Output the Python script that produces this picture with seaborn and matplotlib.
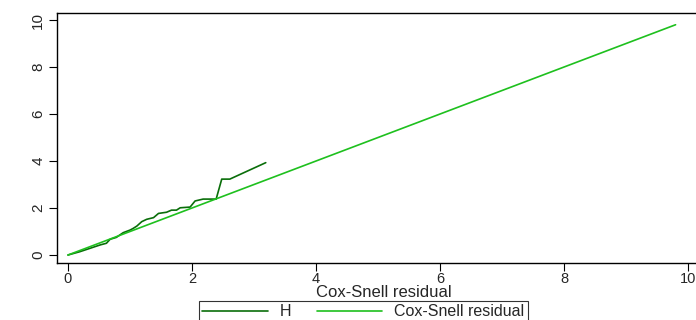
import matplotlib
matplotlib.use("Agg")
import matplotlib.pyplot as plt
import seaborn as sns
import pandas as pd

# Nelson-Aalen cumulative hazard (H) vs Cox-Snell residual
cs_resid = [0.0, 0.19, 0.35, 0.52, 0.62, 0.68, 0.78, 0.89, 1.0, 1.05, 1.11, 1.19, 1.27,
            1.38, 1.46, 1.59, 1.67, 1.75, 1.81, 1.97, 2.05, 2.18, 2.39, 2.48, 2.61, 3.19]
H_vals = [0.0, 0.14, 0.28, 0.43, 0.5, 0.67, 0.75, 0.95, 1.06, 1.13, 1.23, 1.42, 1.52,
          1.59, 1.77, 1.82, 1.91, 1.91, 2.01, 2.04, 2.30, 2.38, 2.38, 3.23, 3.23, 3.93]
# 45-degree reference line
ref_x = [0.0, 9.8]
ref_y = [0.0, 9.8]
x_ticks = [0, 2, 4, 6, 8, 10]
y_ticks = [0, 2, 4, 6, 8, 10]

sns.set_theme(style="white")
plt.rcParams['font.family'] = ['Liberation Sans', 'DejaVu Sans']

fig = plt.figure(figsize=(6.96, 3.2), dpi=100)
ax = fig.add_axes([57/696, 1 - 263/320, 1.02 - 57/696, 250/320])

df_h = pd.DataFrame({"x": cs_resid, "y": H_vals})
df_r = pd.DataFrame({"x": ref_x, "y": ref_y})
sns.lineplot(data=df_h, x="x", y="y", sort=False, estimator=None, ax=ax,
             color="#0a6e0a", linewidth=1.2, label="H")
sns.lineplot(data=df_r, x="x", y="y", sort=False, estimator=None, ax=ax,
             color="#1ec01e", linewidth=1.2, label="Cox-Snell residual")

ax.set_xlim(-0.177, 10.354)
ax.set_ylim(-0.34, 10.3)
ax.set_xticks(x_ticks)
ax.set_yticks(y_ticks)
ax.set_xticklabels([str(t) for t in x_ticks], fontsize=10.5)
ax.set_yticklabels([str(t) for t in y_ticks], fontsize=11, rotation=90, va="center")
ax.tick_params(axis="both", which="both", direction="out", length=6, width=0.8,
               color="black", bottom=True, left=True)
ax.tick_params(axis="x", pad=0.5)
ax.tick_params(axis="y", pad=2.5)
ax.set_xlabel("Cox-Snell residual", fontsize=12, labelpad=-1)
ax.set_ylabel("")
for s in ax.spines.values():
    s.set_color("black")
    s.set_linewidth(1.0)
ax.spines["right"].set_visible(False)

ax.get_legend().remove()
h, l = ax.get_legend_handles_labels()
leg = fig.legend(h, l, loc="upper left", bbox_to_anchor=(199/696, 1 - 301/320), ncol=2,
                 frameon=True, fancybox=False, edgecolor="black", fontsize=11.5,
                 handlelength=4.1, handletextpad=0.75, columnspacing=1.6,
                 borderpad=0.2, borderaxespad=0)
leg.get_frame().set_linewidth(0.8)

fig.savefig("out.png", dpi=100)
